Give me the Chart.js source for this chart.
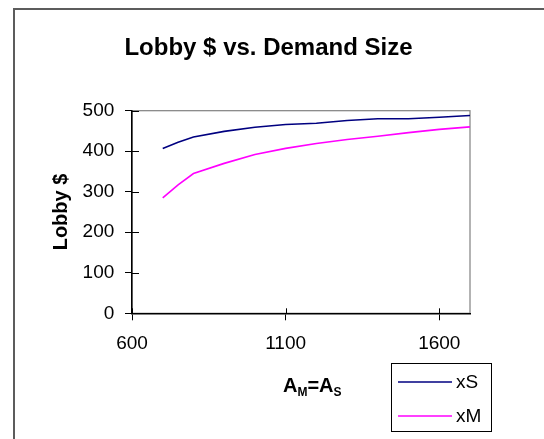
<!DOCTYPE html>
<html>
<head>
<meta charset="utf-8">
<script src="https://cdn.jsdelivr.net/npm/chart.js@4/dist/chart.umd.min.js"></script>
<style>
html,body{margin:0;padding:0;background:#fff;overflow:hidden}
canvas{display:block}
</style>
</head>
<body>
<canvas id="c"></canvas>
<script>
// ---- data ----
const demandSize = [700, 750, 800, 900, 1000, 1100, 1200, 1300, 1400, 1500, 1600, 1700];
const xS = [407, 422, 435, 449, 459, 466, 469, 476, 480, 480, 484, 488];
const xM = [285, 317, 345, 370, 392, 407, 419, 429, 437, 446, 454, 460];
const xTickValues = [600, 1100, 1600];
const yTickValues = [0, 100, 200, 300, 400, 500];
const seriesNames = ['xS', 'xM'];
const chartTitle = 'Lobby $ vs. Demand Size';
const yTitle = 'Lobby $';

// ---- layout (screen pixels) ----
const SX = 1.0;
const H = 439;
const W = Math.round(544 / SX);
const K = 544 / W;
const cx = v => v / K;
const PLOT = { l: 132, r: 470, t: 110.7, b: 313.3 };
const FONT = "'Liberation Sans', Arial, Helvetica, sans-serif";
const colors = ['#000080', '#FF00FF'];

const titleSize = 24, tickSize = 19, yTitleSize = 20, legendSize = 19;
const titleLH = titleSize * 1.2;
const titlePadTop = 48.5 - titleLH / 2;
const titlePadBottom = PLOT.t - titlePadTop - titleLH;
const padRight = W - 2 * cx(268.5);
const tickLH = tickSize * 1.2;

const canvas = document.getElementById('c');
canvas.width = W; canvas.height = H;
canvas.style.width = '544px'; canvas.style.height = H + 'px';

const decor = {
  id: 'decor',
  beforeDraw(chart) {
    const ctx = chart.ctx, a = chart.chartArea;
    ctx.save();
    ctx.strokeStyle = '#5c5c5c';
    ctx.lineWidth = 2;
    ctx.strokeRect(cx(14), 9, W + 20, H + 20);
    ctx.strokeStyle = '#808080';
    ctx.lineWidth = 1.2;
    ctx.strokeRect(a.left, a.top, a.right - a.left, a.bottom - a.top);
    ctx.restore();
  },
  afterDraw(chart) {
    const ctx = chart.ctx, a = chart.chartArea;
    const xs = chart.scales.x, ys = chart.scales.y;
    ctx.save();
    ctx.strokeStyle = '#000';
    ctx.lineWidth = 1;
    ctx.beginPath();
    xs.ticks.forEach(t => {
      const px = Math.round(xs.getPixelForValue(t.value)) + 0.5;
      ctx.moveTo(px, a.bottom); ctx.lineTo(px, a.bottom - 5);
    });
    ys.ticks.forEach(t => {
      const py = Math.round(ys.getPixelForValue(t.value)) + 0.5;
      ctx.moveTo(a.left, py); ctx.lineTo(a.left + cx(7), py);
    });
    ctx.stroke();

    // x-axis title A_M = A_S with subscripts
    const base = 391.5;
    let x = cx(283);
    const big = 'bold 20px ' + FONT, small = 'bold 12px ' + FONT;
    const parts = [['A', big, 0], ['M', small, 4], ['=', big, 0], ['A', big, 0], ['S', small, 4]];
    ctx.fillStyle = '#000';
    ctx.textBaseline = 'alphabetic';
    ctx.textAlign = 'left';
    parts.forEach(([txt, f, dy]) => {
      ctx.font = f;
      ctx.fillText(txt, x, base + dy);
      x += ctx.measureText(txt).width;
    });

    // legend box
    ctx.strokeStyle = '#000';
    ctx.lineWidth = 1;
    ctx.strokeRect(Math.round(cx(391)) + 0.5, 363.5, Math.round(cx(491) - cx(391)), 68);
    const rows = [382, 416];
    ctx.font = legendSize + 'px ' + FONT;
    ctx.textBaseline = 'middle';
    chart.data.datasets.forEach((ds, i) => {
      ctx.strokeStyle = ds.borderColor;
      ctx.lineWidth = 1.3;
      ctx.beginPath();
      ctx.moveTo(cx(398), rows[i]); ctx.lineTo(cx(452), rows[i]);
      ctx.stroke();
      ctx.fillStyle = '#000';
      ctx.fillText(ds.label, cx(456), rows[i] + 0.5);
    });
    ctx.restore();
  }
};

new Chart(canvas, {
  type: 'line',
  data: {
    datasets: [
      { label: seriesNames[0], data: demandSize.map((d, i) => ({ x: d, y: xS[i] })),
        borderColor: colors[0], backgroundColor: colors[0], borderWidth: 1.6, pointRadius: 0, tension: 0, fill: false },
      { label: seriesNames[1], data: demandSize.map((d, i) => ({ x: d, y: xM[i] })),
        borderColor: colors[1], backgroundColor: colors[1], borderWidth: 1.6, pointRadius: 0, tension: 0, fill: false }
    ]
  },
  options: {
    responsive: false,
    animation: false,
    events: [],
    layout: { padding: { left: 0, right: padRight, top: 0, bottom: 0 } },
    plugins: {
      legend: { display: false },
      tooltip: { enabled: false },
      title: {
        display: true, text: chartTitle, color: '#000',
        font: { family: FONT, size: titleSize, weight: 'bold', lineHeight: 1.2 },
        padding: { top: titlePadTop, bottom: titlePadBottom }
      }
    },
    scales: {
      x: {
        type: 'linear', position: 'bottom', min: 600, max: 1700,
        afterBuildTicks: s => { s.ticks = xTickValues.map(v => ({ value: v })); },
        afterFit: s => { s.height = H - PLOT.b; },
        grid: { display: true, drawOnChartArea: false, drawTicks: true, tickLength: 7, color: '#000', lineWidth: 1 },
        border: { display: true, color: '#000', width: 1.5 },
        ticks: { color: '#000', font: { family: FONT, size: tickSize }, padding: 344.2 - PLOT.b - tickLH / 2 - 7,
                 maxRotation: 0, autoSkip: false, callback: v => String(v) }
      },
      y: {
        type: 'linear', position: 'left', min: 0, max: 500,
        afterBuildTicks: s => { s.ticks = yTickValues.map(v => ({ value: v })); },
        afterFit: s => { s.width = cx(PLOT.l); },
        grid: { display: true, drawOnChartArea: false, drawTicks: true, tickLength: cx(7), color: '#000', lineWidth: 1 },
        border: { display: true, color: '#000', width: 1.5 },
        ticks: { color: '#000', font: { family: FONT, size: tickSize }, padding: cx(10.7), callback: v => String(v) },
        title: {
          display: true, text: yTitle, color: '#000',
          font: { family: FONT, size: yTitleSize, weight: 'bold', lineHeight: 1.2 },
          padding: { top: cx(61) - yTitleSize * 0.6, bottom: 0 }
        }
      },
      yR: {
        type: 'linear', position: 'right', min: 0, max: 1, display: true,
        afterFit: s => { s.width = cx(544 - PLOT.r) - padRight; },
        grid: { display: false, drawTicks: false },
        border: { display: false },
        ticks: { display: false }
      }
    }
  },
  plugins: [decor]
});
</script>
</body>
</html>
